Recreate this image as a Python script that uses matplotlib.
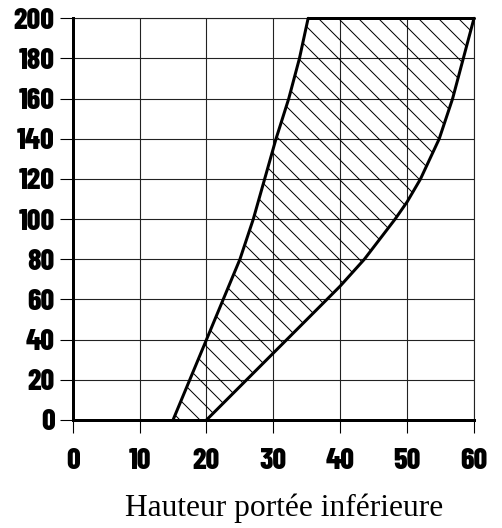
import matplotlib
matplotlib.use("Agg")
import matplotlib.pyplot as plt

# limites de la zone admissible (hauteur portée inférieure -> valeur)
y_left = [0, 20, 40, 60, 80, 100, 120, 140, 160, 180, 200]
x_left = [15, 17.5, 20, 22.5, 25, 27, 28.7, 30.4, 32.3, 33.9, 35.2]
y_right = [0, 20, 40, 50, 60, 66.7, 80, 100, 108.6, 120, 140, 160, 180, 200]
x_right = [20, 26, 32, 35, 38, 40, 43.6, 48.2, 50, 52, 54.8, 56.8, 58.4, 60]

x_ticks = [0, 10, 20, 30, 40, 50, 60]
y_ticks = [0, 20, 40, 60, 80, 100, 120, 140, 160, 180, 200]
xlabel = "Hauteur portée inférieure"

DPI = 60
W, H = 502, 528


def px(v):
    # pixels -> points at this dpi
    return v * 72.0 / DPI


plt.rcParams['hatch.linewidth'] = px(1.0)

fig = plt.figure(figsize=(W / DPI, H / DPI), dpi=DPI)
x0, x1, ytop, ybot = 72.7, 474, 18.3, 420
ax = fig.add_axes([x0 / W, 1 - ybot / H, (x1 - x0) / W, (ybot - ytop) / H])

ax.set_xlim(0, 60)
ax.set_ylim(0, 200)
ax.set_xticks(x_ticks)
ax.set_yticks(y_ticks)
ax.grid(True, color='#222222', linewidth=px(1.1))
ax.set_axisbelow(True)

for side in ('left', 'bottom'):
    ax.spines[side].set_linewidth(px(3))
    ax.spines[side].set_zorder(5)
for side in ('top', 'right'):
    ax.spines[side].set_linewidth(px(1.1))
    ax.spines[side].set_color('#222222')

tick_font = dict(family=['Barlow Condensed', 'DejaVu Sans'],
                 weight=800, size=px(30))
ax.tick_params(axis='both', direction='out', length=px(13), width=px(1.1),
               color='black')
ax.tick_params(axis='x', pad=px(15))
ax.tick_params(axis='y', pad=px(5))
ax.set_xticklabels([str(v) for v in x_ticks], **tick_font)
ax.set_yticklabels([str(v) for v in y_ticks], **tick_font)

# contour de la zone hachurée
poly_x = x_left + x_right[::-1]
poly_y = y_left + y_right[::-1]
ax.fill(poly_x, poly_y, facecolor='none', edgecolor='black', hatch='\\',
        linewidth=0, zorder=3)
ax.plot(x_left, y_left, color='black', linewidth=px(3), zorder=4,
        solid_capstyle='round', solid_joinstyle='round', clip_on=False)
ax.plot(x_right, y_right, color='black', linewidth=px(3), zorder=4,
        solid_capstyle='round', solid_joinstyle='round', clip_on=False)
ax.plot([x_left[-1], x_right[-1]], [y_left[-1], y_right[-1]], color='black',
        linewidth=px(3), zorder=4, solid_capstyle='round', clip_on=False)

fig.text(284 / W, 1 - 516 / H, xlabel, ha='center', va='baseline',
         family=['Liberation Serif', 'DejaVu Serif'], size=px(31.5))

fig.savefig('out.png', dpi=DPI)
